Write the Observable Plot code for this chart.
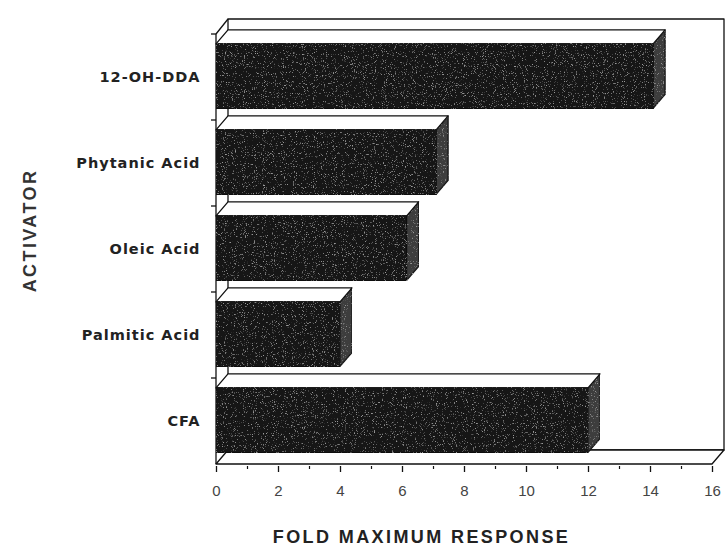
<!DOCTYPE html>
<html>
<head>
<meta charset="utf-8">
<script src="https://cdn.jsdelivr.net/npm/d3@7"></script>
<script src="https://cdn.jsdelivr.net/npm/@observablehq/plot@0.6"></script>
<style>
  html, body { margin: 0; padding: 0; background: #ffffff; }
</style>
</head>
<body>
<div id="chart"></div>
<script>
// Data
const activators = ["12-OH-DDA", "Phytanic Acid", "Oleic Acid", "Palmitic Acid", "CFA"];
const foldResponse = [14.1, 7.1, 6.15, 4.0, 12.0];
const xTicks = [0, 2, 4, 6, 8, 10, 12, 14, 16];
const xMinorTicks = [1, 3, 5, 7, 9, 11, 13, 15];
const xTitle = "FOLD MAXIMUM RESPONSE";
const yTitle = "ACTIVATOR";

(function () {
const rows = activators.map((a, i) => ({activator: a, value: foldResponse[i]}));

const labelFont = "'DejaVu Sans', sans-serif";
const titleFont = "'Liberation Sans', Arial, sans-serif";

const plot = Plot.plot({
  width: 726,
  height: 552,
  marginLeft: 216,
  marginRight: 14,
  marginTop: 32,
  marginBottom: 86,
  x: {domain: [0, 16]},
  y: {type: "band", domain: activators, paddingInner: 0, paddingOuter: 0},
  style: {background: "#ffffff", color: "#111"},
  marks: [
    Plot.axisX({ticks: xTicks, tickSize: 6, tickPadding: 13, label: null,
      fontSize: 15, fontFamily: titleFont, fill: "#444", stroke: "#111", strokeWidth: 1.3}),
    Plot.axisX({ticks: xMinorTicks, tickSize: 3, tickFormat: () => "", label: null,
      stroke: "#111", strokeWidth: 1.2}),
    Plot.axisY({tickSize: 0, tickPadding: 16, label: null,
      fontSize: 14.5, fontWeight: "bold", fontFamily: labelFont, fill: "#222"}),
    Plot.text([xTitle], {frameAnchor: "bottom", dx: -43, dy: 71, text: d => d, textAnchor: "middle",
      fontSize: 18, fontWeight: "bold", fontFamily: titleFont, fill: "#222", lineAnchor: "middle"}),
    Plot.text([yTitle], {frameAnchor: "left", dx: -186, dy: -19, rotate: -90, text: d => d, textAnchor: "middle",
      fontSize: 18, fontWeight: "bold", fontFamily: titleFont, fill: "#333", lineAnchor: "middle"})
  ]
});

// letter spacing for the scanned-typewriter look
const svg = d3.select(plot);
svg.selectAll("[aria-label='y-axis tick label'] text").style("letter-spacing", "1px");
svg.selectAll("[aria-label='text'] text").style("letter-spacing", "2.4px");

// sparse grain filter imitating the scanned halftone
const defs = svg.insert("defs", ":first-child");
const f = defs.append("filter").attr("id", "grain").attr("x", 0).attr("y", 0).attr("width", 1).attr("height", 1);
f.append("feTurbulence").attr("type", "fractalNoise").attr("baseFrequency", 0.9)
  .attr("numOctaves", 2).attr("seed", 4).attr("result", "n");
f.append("feColorMatrix").attr("in", "n").attr("type", "matrix")
  .attr("values", "0 0 0 0 0.33  0 0 0 0 0.33  0 0 0 0 0.33  0 0 0 5 -3.1").attr("result", "speck");
f.append("feComposite").attr("in", "speck").attr("in2", "SourceGraphic").attr("operator", "in").attr("result", "s2");
const m = f.append("feMerge");
m.append("feMergeNode").attr("in", "SourceGraphic");
m.append("feMergeNode").attr("in", "s2");

// Pseudo-3D walls and bars, positioned through the plot's own scales
const sx = plot.scale("x");
const sy = plot.scale("y");
const bw = sy.bandwidth;
const DX = 12, DY = 14;
const x0 = sx.apply(0), x16 = sx.apply(16);
const yTop = sy.apply(activators[0]);
const yBottom = sy.apply(activators[activators.length - 1]) + bw;

const g = svg.insert("g", "g").attr("class", "pseudo3d")
  .attr("stroke", "#111").attr("stroke-width", 1.3).attr("stroke-linejoin", "round");

const poly = pts => pts.map(p => p.join(",")).join(" ");

// back wall
g.append("polygon").attr("fill", "#fff")
  .attr("points", poly([[x0 + DX, yTop - DY - 1], [x16 + DX, yTop - DY - 1], [x16 + DX, yBottom - DY], [x0 + DX, yBottom - DY]]));
// floor
g.append("polygon").attr("fill", "#fff")
  .attr("points", poly([[x0, yBottom], [x16, yBottom], [x16 + DX, yBottom - DY], [x0 + DX, yBottom - DY]]));
// left wall top edge
g.append("line").attr("x1", x0).attr("y1", yTop).attr("x2", x0 + DX).attr("y2", yTop - DY - 1);
// y axis line
g.append("line").attr("x1", x0).attr("y1", yTop).attr("x2", x0).attr("y2", yBottom);
// band boundary ticks
activators.forEach(a => {
  const yb = sy.apply(a);
  g.append("line").attr("x1", x0 - 5).attr("x2", x0).attr("y1", yb).attr("y2", yb);
});

// bars
rows.forEach(r => {
  const yb = sy.apply(r.activator);
  const ft = yb + 0.115 * bw;
  const fb = yb + 0.865 * bw;
  const xe = sx.apply(r.value);
  // side face
  g.append("polygon").attr("fill", "#3c3c3c").attr("stroke", "#1a1a1a").attr("filter", "url(#grain)")
    .attr("points", poly([[xe, ft], [xe + DX, ft - DY], [xe + DX, fb - DY], [xe, fb]]));
  // top face
  g.append("polygon").attr("fill", "#fff")
    .attr("points", poly([[x0, ft], [xe, ft], [xe + DX, ft - DY], [x0 + DX, ft - DY]]));
  // front face
  g.append("rect").attr("fill", "#181818").attr("stroke", "#111").attr("filter", "url(#grain)")
    .attr("x", x0).attr("y", ft).attr("width", xe - x0).attr("height", fb - ft);
});

document.getElementById("chart").appendChild(plot);
})();
</script>
</body>
</html>
